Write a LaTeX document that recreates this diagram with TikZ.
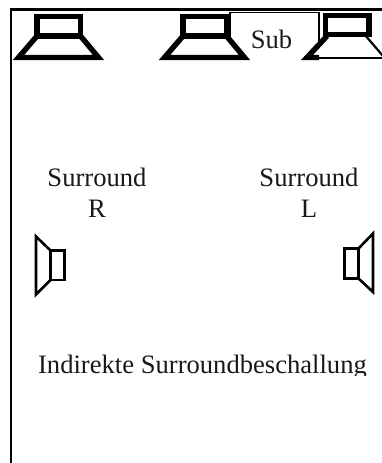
\documentclass[tikz,border=0pt]{standalone}
\usepackage{fontspec}
\setmainfont{Liberation Serif}
\tikzset{
  frameline/.style={line width=2.8pt,black},
  front/.style={line width=5.4pt,black,line join=miter,miter limit=10},
  frontthin/.style={line width=2.2pt,black},
  side/.style={line width=2.6pt,black,line join=miter},
  label/.style={font=\fontsize{26.6}{30}\selectfont,anchor=base,inner sep=0pt,text=black!90},
}
\begin{document}
\begin{tikzpicture}[x=1pt,y=-1pt]
\useasboundingbox (0,0) rectangle (382,463);
% frame
\draw[frameline] (382,9.5) -- (11,9.5) -- (11,463);
% sub box
\draw[line width=1.2pt] (230,44) -- (230,12.5) -- (319,12.5) -- (319,44);
\node[label] (sub) at (271.5,48) {Sub};
% left front speaker
\draw[front] (37,16.5) rectangle (80.5,36);
\draw[front] (37,36) -- (18.5,57.5) -- (98.5,57.5) -- (80.5,36);
% centre front speaker
\draw[front] (183,16.5) rectangle (226.5,36);
\draw[front] (183,36) -- (164.5,57.5) -- (244.5,57.5) -- (226.5,36);
% right front speaker
\draw[front] (325.5,15.5) rectangle (369,34.5);
\draw[front] (327,36) -- (307,57.5) -- (319,57.5);
\draw[frontthin] (319,58) -- (382,58);
\draw[frontthin] (365,35) -- (383,56);
% surround speakers
\draw[side] (36,236.5) -- (36,294.5) -- (50.5,280) -- (50.5,250.5) -- cycle;
\draw[side] (50.5,250.5) rectangle (64.5,280);
\draw[side] (373,233.5) -- (373,292) -- (358.5,278.5) -- (358.5,248.5) -- cycle;
\draw[side] (344.5,248.5) rectangle (358.5,278.5);
% labels
\node[label] (surrR) at (97,186) {Surround};
\node[label] (R) at (97,217) {R};
\node[label] (surrL) at (309,186) {Surround};
\node[label] (L) at (309,217) {L};
\begin{scope}
\clip (0,340) rectangle (382,375.5);
\node[label] (title) at (202.5,373) {Indirekte Surroundbeschallung};
\end{scope}
\end{tikzpicture}
\end{document}
